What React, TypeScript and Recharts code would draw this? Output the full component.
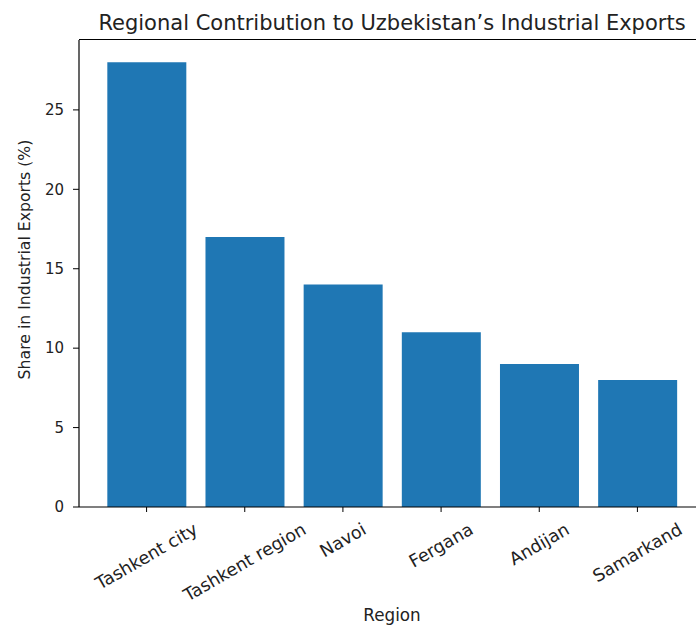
import React from 'react';
import { BarChart, Bar, XAxis, YAxis } from 'recharts';

// chart data
const regions = ['Tashkent city', 'Tashkent region', 'Navoi', 'Fergana', 'Andijan', 'Samarkand'];
const shares = [28, 17, 14, 11, 9, 8];
const yTicks = [0, 5, 10, 15, 20, 25];

const data = regions.map((region, i) => ({ region, share: shares[i] }));

const FONT = '"DejaVu Sans", Verdana, sans-serif';
const TEXT = '#222';
const TICK_FS = 17.5;

let ctx: CanvasRenderingContext2D | null = null;
const measure = (s: string) => {
  if (!ctx) ctx = document.createElement('canvas').getContext('2d');
  if (!ctx) return s.length * 0.58 * TICK_FS;
  ctx.font = `${TICK_FS}px ${FONT}`;
  return ctx.measureText(s).width;
};

// matplotlib-style rotated label: rotation=30, ha=center, va=top
const RotatedTick = (props: any) => {
  const { x, y, payload } = props;
  const w = measure(String(payload.value));
  const h = TICK_FS * 0.75;
  const rad = Math.PI / 6;
  const boxH = w * Math.sin(rad) + h * Math.cos(rad);
  const cy = y + boxH / 2;
  return (
    <text
      x={x}
      y={cy}
      textAnchor="middle"
      dominantBaseline="central"
      transform={`rotate(-30, ${x}, ${cy})`}
      fontSize={TICK_FS}
      fontFamily={FONT}
      fill={TEXT}
    >
      {payload.value}
    </text>
  );
};

export default function App() {
  return (
    <div style={{ position: 'absolute', left: 0, top: 0, width: 696, height: 628, overflow: 'hidden', background: '#fff' }}>
      <div
        style={{
          position: 'absolute',
          left: 0,
          top: 11,
          width: 784,
          textAlign: 'center',
          fontFamily: FONT,
          fontSize: 21,
          lineHeight: '24px',
          color: TEXT,
          whiteSpace: 'nowrap',
        }}
      >
        Regional Contribution to Uzbekistan’s Industrial Exports
      </div>
      {/* top spine, the right one is cut off by the picture edge */}
      <div style={{ position: 'absolute', left: 79, top: 39.4, width: 640, height: 0, borderTop: '1.2px solid #000' }} />
      <BarChart
        width={720}
        height={628}
        data={data}
        margin={{ top: 40, right: 15, left: 0, bottom: 0 }}
        barCategoryGap="10%"
      >
        <XAxis
          dataKey="region"
          height={121}
          padding={{ left: 18.5, right: 18.5 }}
          tickSize={5}
          tickMargin={10}
          tick={<RotatedTick />}
          interval={0}
          axisLine={{ stroke: '#000', strokeWidth: 1.2 }}
          tickLine={{ stroke: '#000' }}
          label={{ value: 'Region', position: 'insideBottom', offset: 7, fontSize: 16.8, fontFamily: FONT, fill: TEXT }}
        />
        <YAxis
          width={79}
          domain={[0, 29.4]}
          ticks={yTicks}
          tickSize={6}
          tickMargin={9}
          tick={{ fontSize: 15, fontFamily: FONT, fill: TEXT }}
          axisLine={{ stroke: '#000', strokeWidth: 1.2 }}
          tickLine={{ stroke: '#000' }}
          label={{
            value: 'Share in Industrial Exports (%)',
            angle: -90,
            position: 'insideLeft',
            offset: 24,
            dy: -14,
            style: { textAnchor: 'middle', fontSize: 15.7, fontFamily: FONT, fill: TEXT },
          }}
        />
        <Bar dataKey="share" fill="#1f77b4" isAnimationActive={false} />
      </BarChart>
    </div>
  );
}
